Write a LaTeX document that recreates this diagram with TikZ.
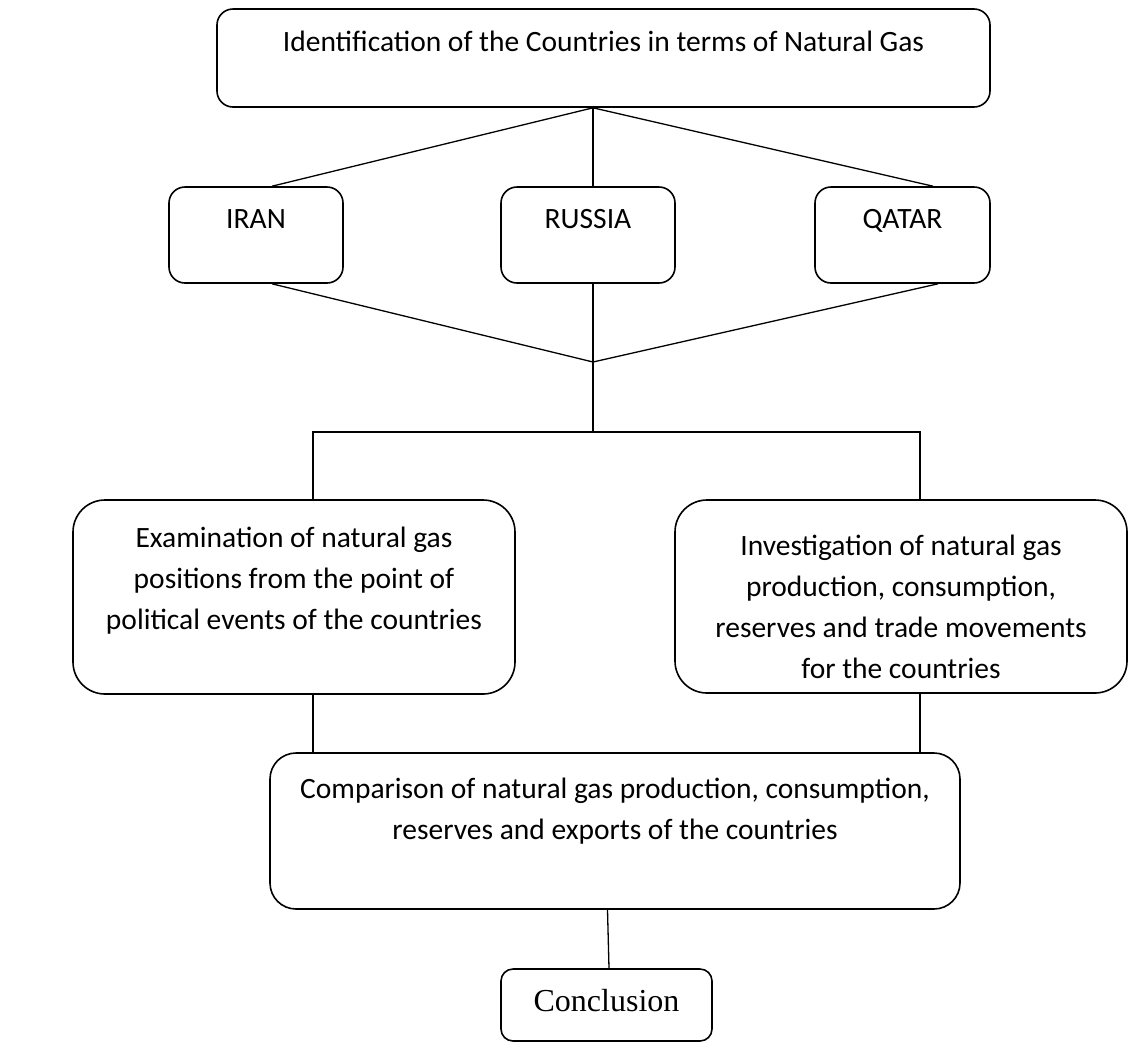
\documentclass[tikz,border=0pt]{standalone}
\usepackage{fontspec}
\setmainfont{Carlito}
\newfontfamily\concfont{Liberation Serif}
\usetikzlibrary{positioning}
\tikzset{
  stage/.style={rectangle, draw=black, line width=1.6pt, fill=white, inner sep=0pt},
  stagetxt/.style={font=\fontsize{29.5}{41}\selectfont, align=center, inner sep=0pt,
              anchor=north, execute at begin node=\strut},
  conctxt/.style={font=\concfont\fontsize{32}{38}\selectfont, inner sep=0pt,
              anchor=north, execute at begin node=\strut},
  link/.style={draw=black, line width=1.3pt},
}
\begin{document}
\begin{tikzpicture}[x=1pt, y=-1pt]
\useasboundingbox (0,0) rectangle (1129,1045);

% --- countries ----------------------------------------------------------
\node[stage, minimum width=773pt, minimum height=98pt, rounded corners=16pt,
  label={[stagetxt, yshift=-14.3pt]north:Identification of the Countries in terms of Natural Gas}]
  (ident) at (603.5,58) {};
\node[stage, minimum width=174pt, minimum height=96pt, rounded corners=16pt,
  label={[stagetxt, yshift=-13.3pt]north:IRAN}] (iran) at (256,235) {};
\node[stage, minimum width=174pt, minimum height=96pt, rounded corners=16pt,
  label={[stagetxt, yshift=-13.3pt]north:RUSSIA}] (russia) at (588,235) {};
\node[stage, minimum width=175pt, minimum height=96pt, rounded corners=16pt,
  label={[stagetxt, yshift=-13.3pt]north:QATAR}] (qatar) at (902.5,235) {};

\coordinate (hub) at ([xshift=-10.5pt]ident.south);
\coordinate (split) at (593,362);
\coordinate (fork) at (593,432);
\draw[link] (hub) -- ([xshift=16pt]iran.north);
\draw[link] (hub) -- ([xshift=5pt]russia.north);
\draw[link] (hub) -- ([xshift=30.5pt]qatar.north);
\draw[link] ([xshift=16pt]iran.south) -- (split);
\draw[link] ([xshift=35.5pt]qatar.south) -- (split);
\draw[link] ([xshift=5pt]russia.south) -- (fork);

% --- analyses -----------------------------------------------------------
\node[stage, minimum width=442pt, minimum height=194pt, rounded corners=32pt,
  label={[stagetxt, yshift=-27.3pt]north:{Examination of natural gas\\positions from the point of\\political events of the countries}}]
  (polit) at (294,597) {};
\node[stage, minimum width=452pt, minimum height=193pt, rounded corners=32pt,
  label={[stagetxt, yshift=-35.3pt]north:{Investigation of natural gas\\production, consumption,\\reserves and trade movements\\for the countries}}]
  (invest) at (901,596.5) {};
\draw[link] ([xshift=19pt]polit.north) |- (fork) -| ([xshift=19pt]invest.north);

% --- comparison and conclusion -----------------------------------------
\node[stage, minimum width=690pt, minimum height=156pt, rounded corners=26pt,
  label={[stagetxt, yshift=-25.3pt]north:{Comparison of natural gas production, consumption,\\reserves and exports of the countries}}]
  (compar) at (615,831) {};
\node[stage, minimum width=211pt, minimum height=72pt, rounded corners=12pt,
  label={[conctxt, yshift=-16.4pt]north:Conclusion}] (concl) at (606.5,1005) {};
\draw[link] ([xshift=19pt]polit.south) -- ([xshift=19pt]polit.south |- compar.north);
\draw[link] ([xshift=19pt]invest.south) -- ([xshift=19pt]invest.south |- compar.north);
\draw[link] ([xshift=-7.5pt]compar.south) -- ([xshift=2.5pt]concl.north);
\end{tikzpicture}
\end{document}
